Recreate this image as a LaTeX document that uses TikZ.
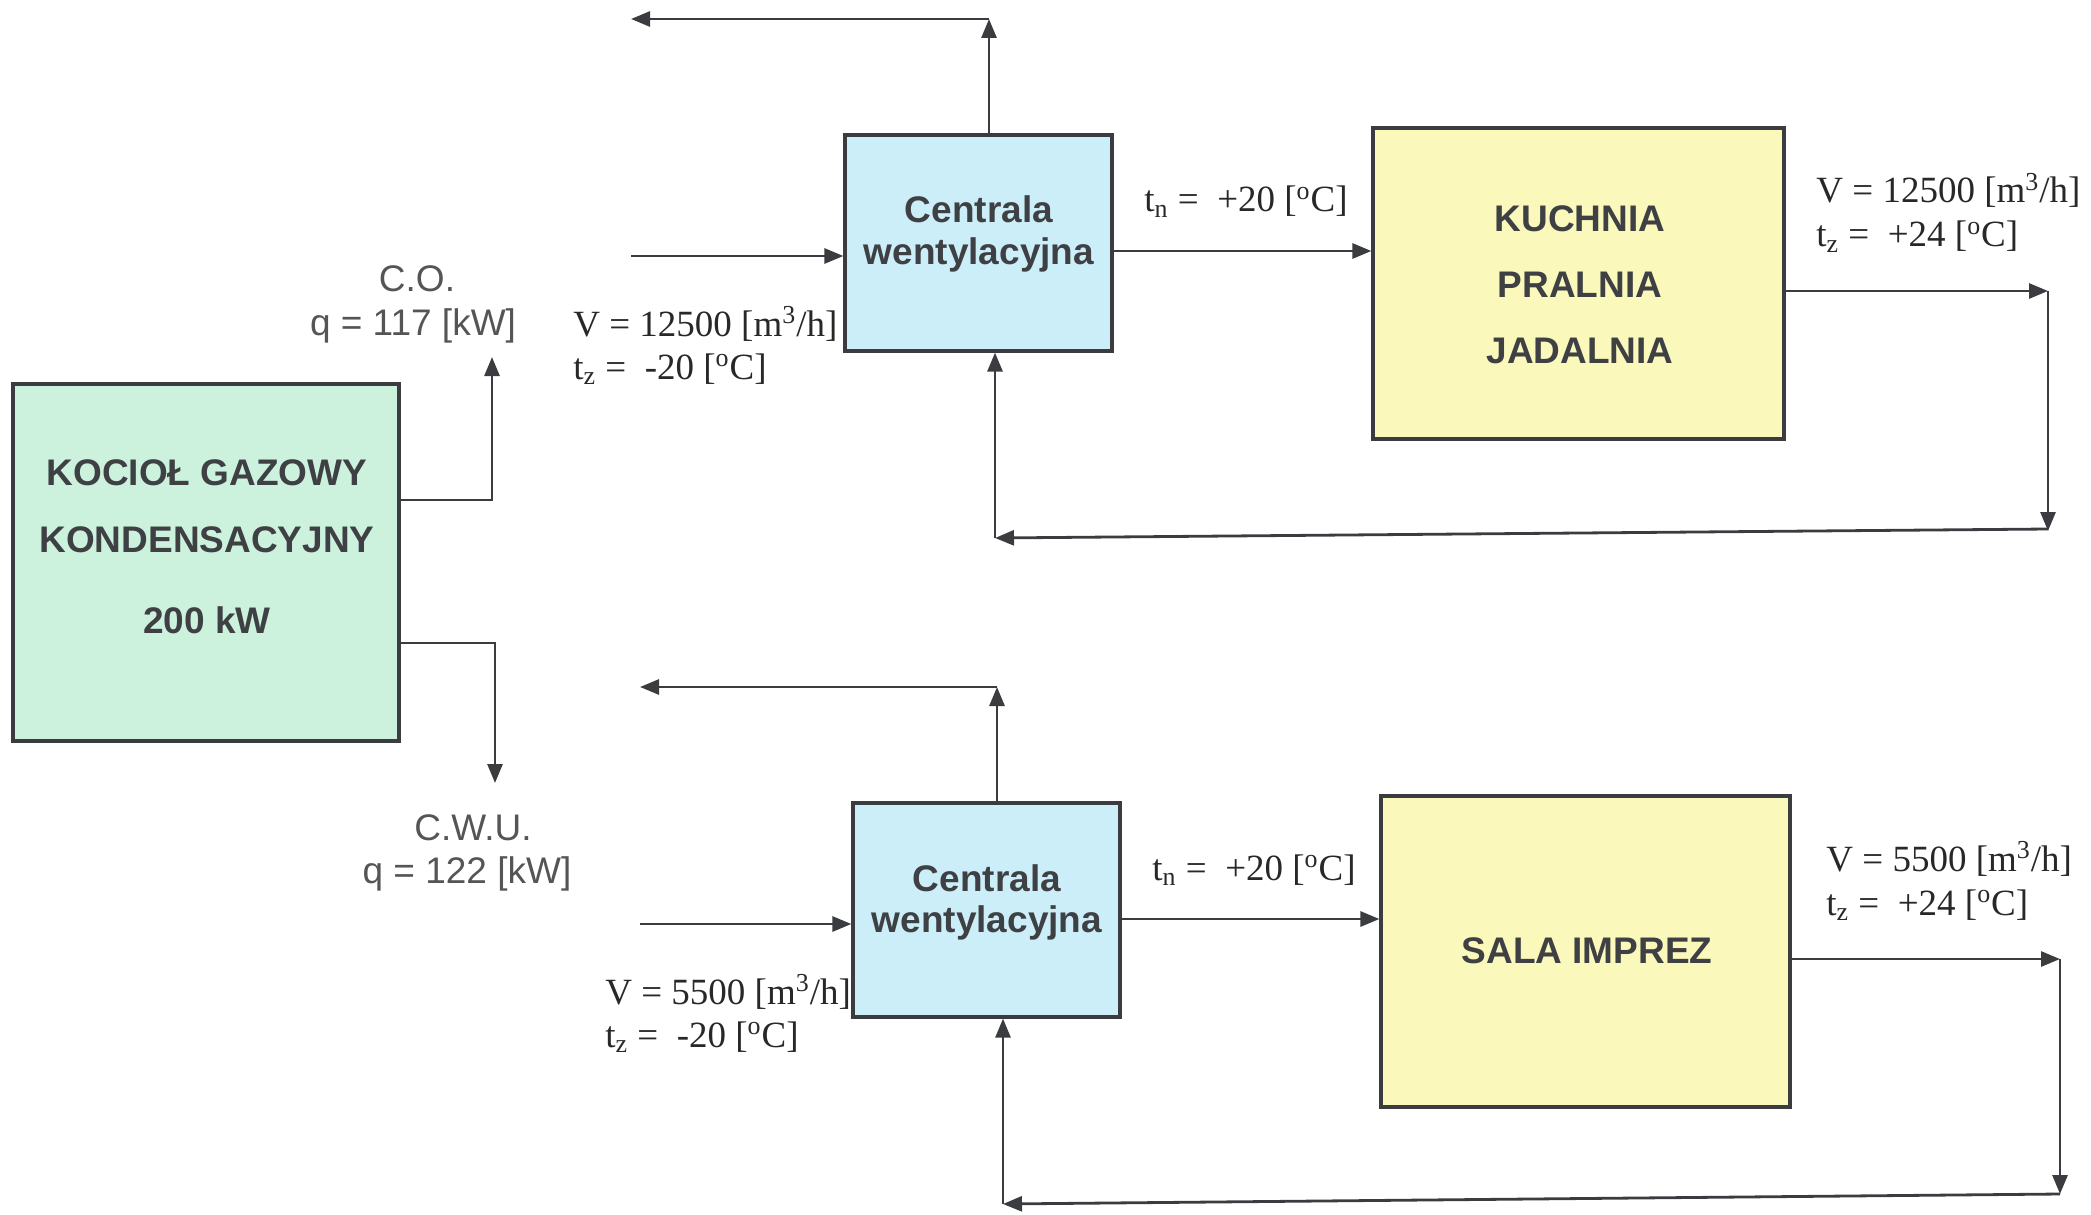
\documentclass[tikz,border=0pt]{standalone}
\usepackage{fontspec}
\setmainfont{Liberation Serif}
\setsansfont{Liberation Sans}
\usetikzlibrary{arrows.meta}
\definecolor{boilerfill}{RGB}{204,242,222}
\definecolor{ahufill}{RGB}{204,238,248}
\definecolor{roomfill}{RGB}{250,248,186}
\definecolor{linecol}{RGB}{58,60,64}
\definecolor{boxtext}{RGB}{62,64,68}
\definecolor{labtext}{RGB}{40,40,40}
\definecolor{sanslab}{RGB}{85,85,85}
\begin{document}
\begin{tikzpicture}[x=0.5pt,y=-0.5pt,
  box/.style={draw=linecol, line width=1.6pt, inner sep=0pt},
  boxlabel/.style={anchor=base, text=boxtext, font=\sffamily\bfseries\fontsize{18.5}{20}\selectfont, inner sep=0pt},
  vallabel/.style={anchor=base west, text=labtext, font=\rmfamily\fontsize{18.5}{20}\selectfont, inner sep=0pt},
  heatlabel/.style={anchor=base, text=sanslab, font=\sffamily\fontsize{18.5}{20}\selectfont, inner sep=0pt},
  flow/.style={draw=linecol, line width=1.4pt, -{Triangle[length=9.5pt,width=7.5pt]}}
]
\useasboundingbox (0,0) rectangle (2091,1214);

% boxes
\node[box, fill=boilerfill, minimum width=193pt, minimum height=178.5pt] (boiler) at (206,562.5) {};
\node[box, fill=ahufill, minimum width=133.5pt, minimum height=108pt] (ahu1) at (978.5,243) {};
\node[box, fill=roomfill, minimum width=205.5pt, minimum height=155.5pt] (kuch) at (1578.5,283.5) {};
\node[box, fill=ahufill, minimum width=133.5pt, minimum height=107pt] (ahu2) at (986.5,910) {};
\node[box, fill=roomfill, minimum width=204.5pt, minimum height=155.5pt] (sala) at (1585.5,951.5) {};

% box texts
\node[boxlabel] (b1) at (207,485) {KOCIOŁ GAZOWY};
\node[boxlabel] (b2) at (207,552) {KONDENSACYJNY};
\node[boxlabel] (b3) at (207,633) {200 kW};
\node[boxlabel] (a1t1) at (979,223) {Centrala};
\node[boxlabel] (a1t2) at (979,264) {wentylacyjna};
\node[boxlabel] (a2t1) at (987,891) {Centrala};
\node[boxlabel] (a2t2) at (987,932) {wentylacyjna};
\node[boxlabel] (k1) at (1580,232) {KUCHNIA};
\node[boxlabel] (k2) at (1580,297) {PRALNIA};
\node[boxlabel] (k3) at (1580,363) {JADALNIA};
\node[boxlabel] (s1) at (1587,963) {SALA IMPREZ};

% heat labels
\node[heatlabel] (co1) at (417,291) {C.O.};
\node[heatlabel] (co2) at (413,335) {q = 117 [kW]};
\node[heatlabel] (cw1) at (473,840) {C.W.U.};
\node[heatlabel] (cw2) at (467,883) {q = 122 [kW]};

% value labels
\node[vallabel] (v1) at (573,336) {V = 12500 [m\textsuperscript{3}/h]};
\node[vallabel] (t1) at (573,379) {t\textsubscript{z} =\ \ -20 [\textsuperscript{o}C]};
\node[vallabel] (tn1) at (1144,212) {t\textsubscript{n} =\ \ +20 [\textsuperscript{o}C]};
\node[vallabel] (v2) at (1816,203) {V = 12500 [m\textsuperscript{3}/h]};
\node[vallabel] (t2) at (1816,247) {t\textsubscript{z} =\ \ +24 [\textsuperscript{o}C]};
\node[vallabel] (v3) at (605,1004) {V = 5500 [m\textsuperscript{3}/h]};
\node[vallabel] (t3) at (605,1047) {t\textsubscript{z} =\ \ -20 [\textsuperscript{o}C]};
\node[vallabel] (tn2) at (1152,880) {t\textsubscript{n} =\ \ +20 [\textsuperscript{o}C]};
\node[vallabel] (v4) at (1826,871) {V = 5500 [m\textsuperscript{3}/h]};
\node[vallabel] (t4) at (1826,915) {t\textsubscript{z} =\ \ +24 [\textsuperscript{o}C]};

% coordinates
\coordinate (coTip) at (492,357);
\coordinate (cwTip) at (495,783);
\coordinate (in1) at (631,256);
\coordinate (ex1c) at (989,19);
\coordinate (ex1e) at (631,19);
\coordinate (o1) at (2048,291);
\coordinate (o1b) at (2048,531);
\coordinate (r1) at (995,538);
\coordinate (in2) at (640,924);
\coordinate (ex2c) at (997,687);
\coordinate (ex2e) at (640,687);
\coordinate (o2) at (2060,959);
\coordinate (o2b) at (2060,1194);
\coordinate (r2) at (1003,1204);

% boiler connectors
\draw[flow] (boiler.east |- 0,500) -| (coTip);
\draw[flow] (boiler.east |- 0,643) -| (cwTip);

% upper system
\draw[flow] (in1) -- (in1 -| ahu1.west);
\draw[flow] (ahu1.north -| ex1c) -- (ex1c);
\draw[flow] (ex1c) -- (ex1e);
\draw[flow] (ahu1.east |- 0,251) -- (kuch.west |- 0,251);
\draw[flow] (kuch.east |- o1) -- (o1);
\draw[flow] (o1) -- (o1b);
\draw[flow] (o1b |- 0,529) -- (r1);
\draw[flow] (r1) -- (r1 |- ahu1.south);

% lower system
\draw[flow] (in2) -- (in2 -| ahu2.west);
\draw[flow] (ahu2.north -| ex2c) -- (ex2c);
\draw[flow] (ex2c) -- (ex2e);
\draw[flow] (ahu2.east |- 0,919) -- (sala.west |- 0,919);
\draw[flow] (sala.east |- o2) -- (o2);
\draw[flow] (o2) -- (o2b);
\draw[flow] (o2b |- 0,1194) -- (r2);
\draw[flow] (r2) -- (r2 |- ahu2.south);
\end{tikzpicture}
\end{document}
